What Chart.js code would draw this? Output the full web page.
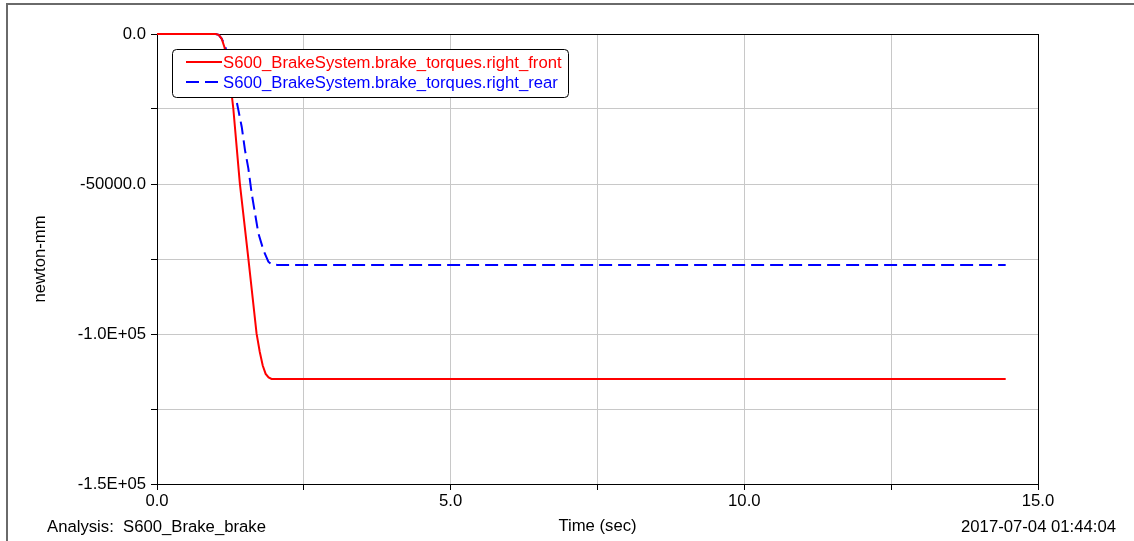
<!DOCTYPE html>
<html>
<head>
<meta charset="utf-8">
<script src="https://cdn.jsdelivr.net/npm/chart.js@4"></script>
<style>
html,body{margin:0;padding:0;background:#fff;}
canvas{display:block;}
</style>
</head>
<body>
<canvas id="c" width="1134" height="541"></canvas>
<script>
// ---- data ----
const seriesNames = [
  'S600_BrakeSystem.brake_torques.right_front',
  'S600_BrakeSystem.brake_torques.right_rear'
];
const frontTime   = [0, 1.00, 1.05, 1.10, 1.15, 1.20, 1.25, 1.30, 1.41, 1.555, 1.695, 1.75, 1.80, 1.85, 1.90, 1.95, 2.01, 14.45];
const frontTorque = [0, 0, -300, -1500, -4500, -9500, -16500, -25000, -49700, -74800, -99800, -106000, -110500, -113300, -114500, -115000, -115000, -115000];
const rearTime    = [0, 1.00, 1.05, 1.10, 1.157, 1.22, 1.28, 1.345, 1.385, 1.442, 1.498, 1.555, 1.612, 1.669, 1.726, 1.811, 1.896, 1.95, 2.05, 14.45];
const rearTorque  = [0, 0, -300, -1500, -3700, -9000, -15000, -21400, -25300, -30900, -38700, -44800, -53100, -59800, -66400, -72000, -75900, -76800, -77000, -77000];

const xTickValues = [0, 5, 10, 15];
const xTickLabels = ['0.0', '5.0', '10.0', '15.0'];
const yTickValues = [0, -50000, -100000, -150000];
const yTickLabels = ['0.0', '-50000.0', '-1.0E+05', '-1.5E+05'];

const xTitle = 'Time (sec)';
const yTitle = 'newton-mm';
const analysisText = 'Analysis:  S600_Brake_brake';
const dateText = '2017-07-04 01:44:04';

// ---- styling ----
const FAMILY = '"Liberation Sans", Arial, sans-serif';
const FSIZE = 16.7;
const font = {family: FAMILY, size: FSIZE};
const colors = ['#ff0000', '#0000ff'];
const dashes = [[], [13, 6]];

const toPts = (xs, ys) => xs.map((x, i) => ({x: x, y: ys[i]}));

const framePlugin = {
  id: 'frame',
  beforeDraw(chart) {
    const ctx = chart.ctx;
    ctx.save();
    ctx.fillStyle = '#fff';
    ctx.fillRect(0, 0, chart.width, chart.height);
    ctx.strokeStyle = '#6a6a6a';
    ctx.lineWidth = 2;
    ctx.beginPath();
    ctx.moveTo(7, chart.height + 2);
    ctx.lineTo(7, 4);
    ctx.lineTo(chart.width + 2, 4);
    ctx.stroke();
    ctx.restore();
  },
  beforeDatasetsDraw(chart) {
    const a = chart.chartArea, ctx = chart.ctx;
    ctx.save();
    ctx.strokeStyle = '#000';
    ctx.lineWidth = 1;
    ctx.strokeRect(Math.round(a.left) + 0.5, Math.round(a.top) + 0.5,
                   Math.round(a.right - a.left), Math.round(a.bottom - a.top));
    ctx.restore();
  },
  afterDatasetsDraw(chart) {
    const ctx = chart.ctx;
    ctx.save();
    // legend box
    const bx = 172.5, by = 49.5, bw = 396, bh = 48;
    ctx.beginPath();
    ctx.roundRect(bx, by, bw, bh, 4);
    ctx.fillStyle = '#fff';
    ctx.fill();
    ctx.strokeStyle = '#000';
    ctx.lineWidth = 1;
    ctx.stroke();
    ctx.font = FSIZE + 'px ' + FAMILY;
    ctx.textBaseline = 'middle';
    ctx.textAlign = 'left';
    chart.data.datasets.forEach((ds, i) => {
      const y = 62 + 20 * i;
      ctx.beginPath();
      ctx.setLineDash(ds.borderDash || []);
      ctx.strokeStyle = ds.borderColor;
      ctx.lineWidth = 2;
      ctx.moveTo(186, y);
      ctx.lineTo(222, y);
      ctx.stroke();
      ctx.setLineDash([]);
      ctx.fillStyle = ds.borderColor;
      ctx.fillText(ds.label, 223, y + 1);
    });
    ctx.restore();
  },
  afterDraw(chart) {
    const ctx = chart.ctx;
    ctx.save();
    ctx.font = FSIZE + 'px ' + FAMILY;
    ctx.fillStyle = '#000';
    ctx.textBaseline = 'middle';
    ctx.textAlign = 'left';
    ctx.fillText(analysisText, 47, 527);
    ctx.textAlign = 'right';
    ctx.fillText(dateText, 1116, 527);
    ctx.restore();
  }
};

new Chart(document.getElementById('c'), {
  type: 'line',
  data: {
    datasets: [
      {label: seriesNames[0], data: toPts(frontTime, frontTorque), borderColor: colors[0], backgroundColor: colors[0], borderDash: dashes[0], borderWidth: 2, pointRadius: 0, tension: 0, clip: false},
      {label: seriesNames[1], data: toPts(rearTime, rearTorque), borderColor: colors[1], backgroundColor: colors[1], borderDash: dashes[1], borderWidth: 2, pointRadius: 0, tension: 0, clip: false}
    ]
  },
  options: {
    responsive: false,
    animation: false,
    devicePixelRatio: 1,
    layout: {padding: {left: 0, top: 34, right: 96, bottom: 0}},
    plugins: {legend: {display: false}, tooltip: {enabled: false}},
    scales: {
      x: {
        type: 'linear', min: 0, max: 15,
        ticks: {
          stepSize: 2.5, autoSkip: false, maxRotation: 0, color: '#000', font: font, padding: 1,
          callback: (v) => { const i = xTickValues.indexOf(v); return i >= 0 ? xTickLabels[i] : ''; }
        },
        grid: {color: '#c8c8c8', tickColor: '#000', tickLength: 6, lineWidth: 1},
        border: {color: '#000', width: 1},
        title: {display: true, text: xTitle, color: '#000', font: font, padding: {top: 0, bottom: 5}},
        afterFit(s) { s.height = 57; }
      },
      y: {
        type: 'linear', min: -150000, max: 0,
        ticks: {
          stepSize: 25000, autoSkip: false, color: '#000', font: font, padding: 5,
          callback: (v) => { const i = yTickValues.indexOf(v); return i >= 0 ? yTickLabels[i] : ''; }
        },
        grid: {color: '#c8c8c8', tickColor: '#000', tickLength: 6, lineWidth: 1},
        border: {color: '#000', width: 1},
        title: {display: true, text: yTitle, color: '#000', font: font, padding: {top: 30, bottom: 0}},
        afterFit(s) { s.width = 157; }
      }
    }
  },
  plugins: [framePlugin]
});
</script>
</body>
</html>
